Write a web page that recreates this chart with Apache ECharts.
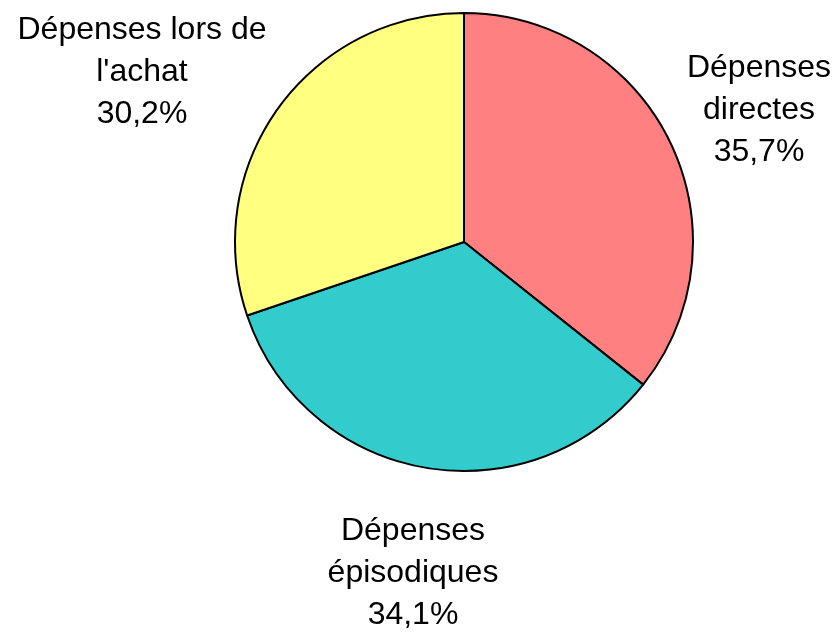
<!DOCTYPE html>
<html>
<head>
<meta charset="utf-8">
<script src="https://cdn.jsdelivr.net/npm/echarts@6/dist/echarts.min.js"></script>
<style>html,body{margin:0;padding:0;background:#fff;}#chart{width:838px;height:634px;}</style>
</head>
<body>
<div id="chart"></div>
<script>
const categories = ["Dépenses\ndirectes", "Dépenses\népisodiques", "Dépenses lors de\nl'achat"];
const values = [35.7, 34.1, 30.2];
const colors = ["#FF8080", "#33CCCC", "#FFFF80"];
const labelPos = [[759, 110], [413, 573], [142, 72]];

const chart = echarts.init(document.getElementById('chart'), null, {renderer: 'canvas'});
chart.setOption({
  animation: false,
  backgroundColor: '#ffffff',
  series: [{
    type: 'pie',
    center: [464, 242],
    radius: 229,
    startAngle: 90,
    clockwise: true,
    avoidLabelOverlap: false,
    data: categories.map((c, i) => ({name: c, value: values[i], itemStyle: {color: colors[i]}})),
    itemStyle: {borderColor: '#000', borderWidth: 2},
    emphasis: {disabled: true},
    label: {
      show: true,
      position: 'outside',
      overflow: 'none',
      formatter: p => p.name + '\n' + p.value.toFixed(1).replace('.', ',') + '%',
      fontFamily: 'Liberation Sans, Arial, sans-serif',
      fontSize: 32,
      lineHeight: 42,
      color: '#000',
      align: 'center'
    },
    labelLine: {show: false},
    labelLayout: p => ({
      x: labelPos[p.dataIndex][0],
      y: labelPos[p.dataIndex][1],
      align: 'center',
      verticalAlign: 'middle'
    })
  }]
});
</script>
</body>
</html>
